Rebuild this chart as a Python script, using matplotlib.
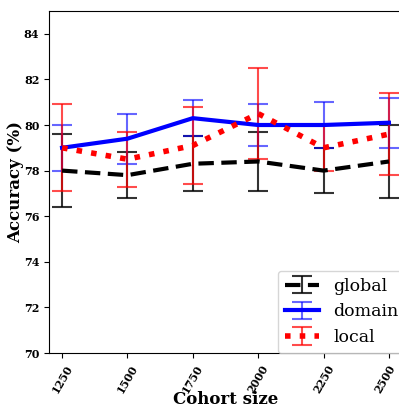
import matplotlib
matplotlib.use("Agg")
import matplotlib.pyplot as plt
from matplotlib.transforms import ScaledTranslation

cohort = [1250, 1500, 1750, 2000, 2250, 2500]

global_acc = [78.0, 77.8, 78.3, 78.4, 78.0, 78.4]
global_err = [1.6, 1.0, 1.2, 1.3, 1.0, 1.6]

domain_acc = [79.0, 79.4, 80.3, 80.0, 80.0, 80.1]
domain_err = [1.0, 1.1, 0.8, 0.9, 1.0, 1.1]

local_acc = [79.0, 78.5, 79.1, 80.5, 79.0, 79.6]
local_err = [1.9, 1.2, 1.7, 2.0, 1.0, 1.8]

plt.rcParams['font.family'] = 'DejaVu Serif'

fig = plt.figure(figsize=(3.99, 4.08), dpi=100)
ax = fig.add_axes([49 / 399, 55 / 408, 353 / 399, 342 / 408])

ax.errorbar(cohort, global_acc, yerr=global_err, color='black', ls='--', lw=3,
            dashes=(3.7, 1.8), capsize=7.5, elinewidth=1.5, capthick=1.5,
            ecolor=(0, 0, 0, 0.8), label='global')
ax.errorbar(cohort, domain_acc, yerr=domain_err, color='blue', ls='-', lw=3,
            capsize=7.5, elinewidth=1.5, capthick=1.5,
            ecolor=(0, 0, 1, 0.6), label='domain')
ax.errorbar(cohort, local_acc, yerr=local_err, color='red', ls=':', lw=4,
            capsize=7.5, elinewidth=1.5, capthick=1.5,
            ecolor=(1, 0, 0, 0.7), label='local')

ax.set_xlim(1200, 2550)
ax.set_ylim(70, 85)
ax.set_xticks(cohort)
ax.set_xticklabels([str(c) for c in cohort], rotation=60, fontweight='bold', fontsize=8)
ax.set_yticks(range(70, 85, 2))
ax.set_yticklabels([str(v) for v in range(70, 85, 2)], fontweight='bold', fontsize=8)
ax.set_xlabel('Cohort size', fontsize=12, fontweight='bold', labelpad=-2.5)
ax.set_ylabel('Accuracy (%)', fontsize=12, fontweight='bold', labelpad=0)

# last tick label sits at the figure edge, nudge it left a bit
last = ax.get_xticklabels()[-1]
last.set_transform(last.get_transform() + ScaledTranslation(-3 / 72, 0, fig.dpi_scale_trans))

ax.legend(loc='lower right', fontsize=12.5, bbox_to_anchor=(1.01, 0.0), borderaxespad=0.0)

fig.savefig('out.png', dpi=100)
